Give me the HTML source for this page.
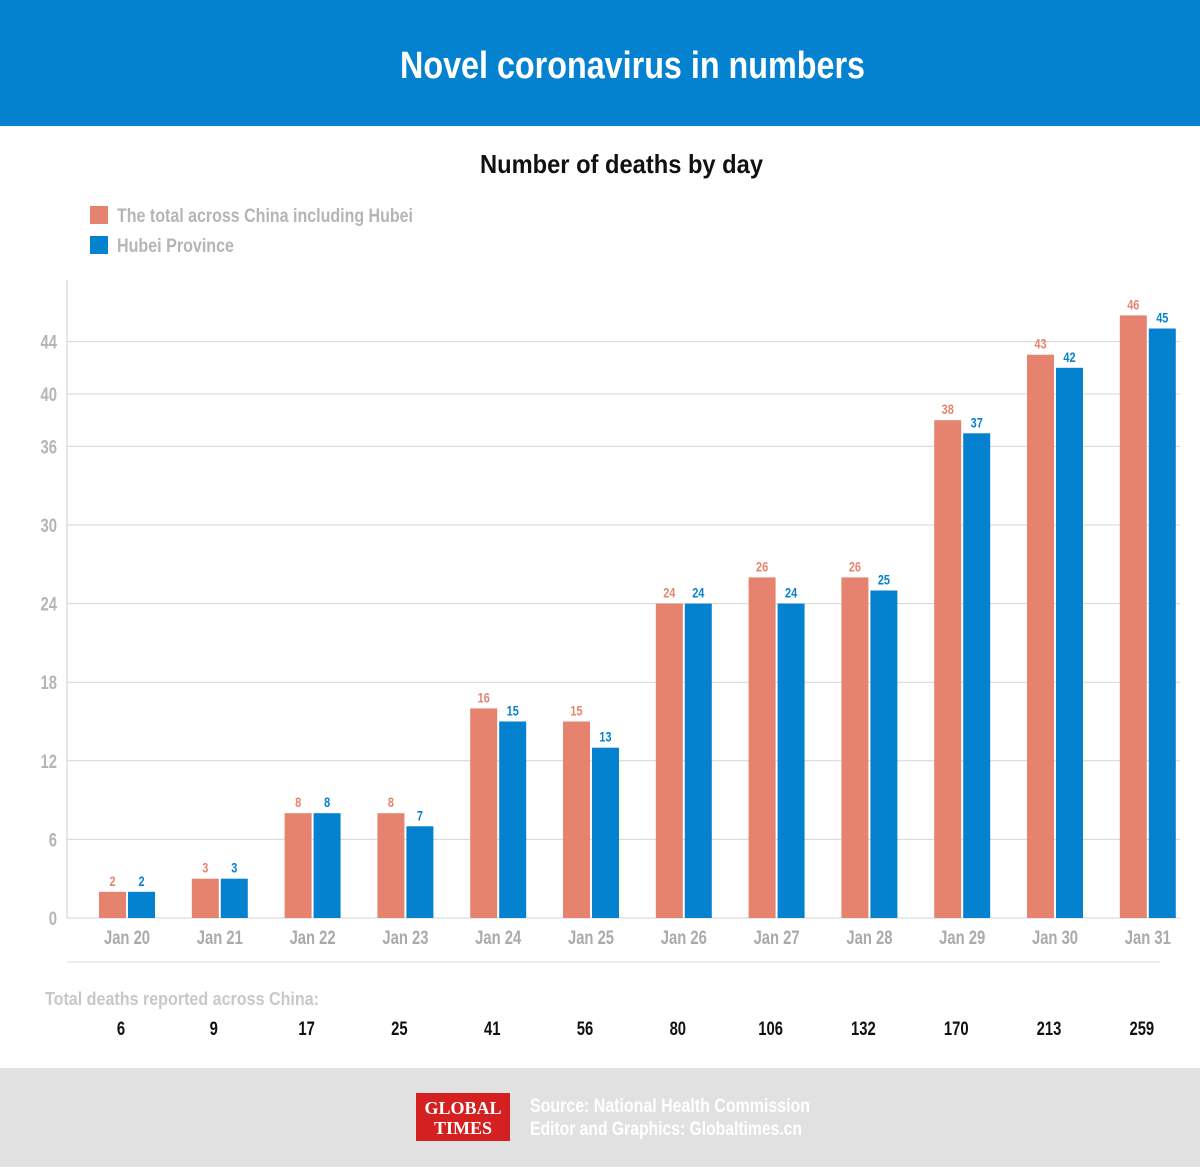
<!DOCTYPE html>
<html><head><meta charset="utf-8"><style>
body{margin:0;width:1200px;height:1167px;background:#fff;overflow:hidden;font-family:"Liberation Sans",sans-serif;}
</style></head><body>
<svg id="c" width="1200" height="1167" xmlns="http://www.w3.org/2000/svg" style="font-family:'Liberation Sans',sans-serif;font-weight:bold">
<rect x="0" y="0" width="1200" height="126" fill="#0481cf"/>
<text x="400" y="78" font-size="38" fill="#fff" textLength="465" lengthAdjust="spacingAndGlyphs">Novel coronavirus in numbers</text>
<text x="480" y="173" font-size="26" fill="#111" textLength="283" lengthAdjust="spacingAndGlyphs">Number of deaths by day</text>
<rect x="90" y="206" width="18" height="18" fill="#e5836f"/>
<text x="117" y="222" font-size="19" fill="#b5b5b5" textLength="296" lengthAdjust="spacingAndGlyphs">The total across China including Hubei</text>
<rect x="90" y="236" width="18" height="18" fill="#0481cf"/>
<text x="117" y="252" font-size="19" fill="#b5b5b5" textLength="117" lengthAdjust="spacingAndGlyphs">Hubei Province</text>
<line x1="67" y1="280" x2="67" y2="918" stroke="#ccc"/>
<g id="grid"></g><g id="bars"></g>
<line x1="67" y1="962" x2="1160" y2="962" stroke="#ddd"/>
<text x="45" y="1005" font-size="18" fill="#c8c8c8" textLength="274" lengthAdjust="spacingAndGlyphs">Total deaths reported across China:</text>
<rect x="0" y="1068" width="1200" height="99" fill="#e1e1e1"/>
<rect x="416" y="1093" width="94" height="48" fill="#d42020"/>
<text x="463" y="1114" font-size="18" fill="#fff" text-anchor="middle" font-family="Liberation Serif">GLOBAL</text>
<text x="463" y="1134" font-size="18" fill="#fff" text-anchor="middle" font-family="Liberation Serif">TIMES</text>
<text x="530" y="1112" font-size="19" fill="#fff" textLength="280" lengthAdjust="spacingAndGlyphs">Source: National Health Commission</text>
<text x="530" y="1135" font-size="19" fill="#fff" textLength="272" lengthAdjust="spacingAndGlyphs">Editor and Graphics: Globaltimes.cn</text>
</svg>
<script>
const categories=["Jan 20","Jan 21","Jan 22","Jan 23","Jan 24","Jan 25","Jan 26","Jan 27","Jan 28","Jan 29","Jan 30","Jan 31"];
const chinaDeaths=[2,3,8,8,16,15,24,26,26,38,43,46];
const hubeiDeaths=[2,3,8,7,15,13,24,24,25,37,42,45];
const totalDeaths=[6,9,17,25,41,56,80,106,132,170,213,259];
const yTicks=[0,6,12,18,24,30,36,40,44];
const NS="http://www.w3.org/2000/svg";
function y(v){return 918-v*13.1;}
function xc(i){return 127+i*92.8;}
function mk(t,a,p){const e=document.createElementNS(NS,t);for(const k in a)e.setAttribute(k,a[k]);p.appendChild(e);return e;}
function txt(x,yy,a,p){a.transform='translate('+x+','+yy+') scale(0.78,1)';return mk('text',a,p);}
const grid=document.getElementById('grid'),bars=document.getElementById('bars');
yTicks.forEach(v=>{
  const l=mk('line',{x1:67,x2:1180,y1:y(v),y2:y(v),stroke:'#d5d5d5'},grid);
  
  
  const t=txt(57,y(v)+7,{'font-size':19,fill:'#b5b5b5','text-anchor':'end'},grid);
  t.textContent=v;
  
  
});
categories.forEach((c,i)=>{
  const cx=xc(i),w=27;
  const r=mk('rect',{x:cx-w-1,y:y(chinaDeaths[i]),width:w,height:918-y(chinaDeaths[i]),fill:'#e5836f'},bars);
  
  
  const b=mk('rect',{x:cx+1,y:y(hubeiDeaths[i]),width:w,height:918-y(hubeiDeaths[i]),fill:'#0481cf'},bars);
  
  
  const t1=txt(cx-w/2-1,y(chinaDeaths[i])-6,{'font-size':14,fill:'#e5836f','text-anchor':'middle'},bars);
  t1.textContent=chinaDeaths[i];
  
  
  const t2=txt(cx+w/2+1,y(hubeiDeaths[i])-6,{'font-size':14,fill:'#0481cf','text-anchor':'middle'},bars);
  t2.textContent=hubeiDeaths[i];
  
  
  const xl=txt(cx,944,{'font-size':19,fill:'#aaa','text-anchor':'middle'},bars);
  xl.textContent=c;
  
  
  const tt=txt(cx-6,1035,{'font-size':19,fill:'#111','text-anchor':'middle'},bars);
  tt.textContent=totalDeaths[i];
  
  
});
</script>
</body></html>
